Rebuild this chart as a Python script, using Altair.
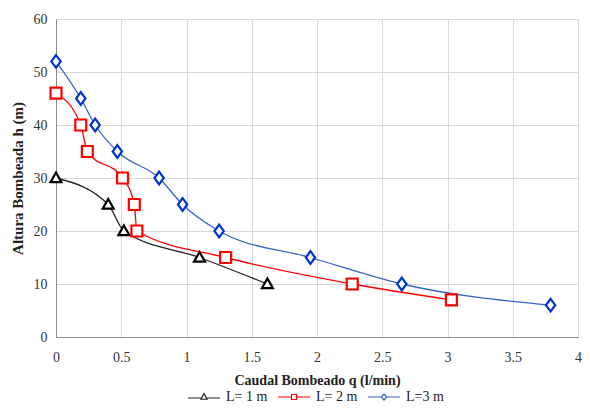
import altair as alt
import pandas as pd

# ---- data ----
series = ["L= 1 m", "L= 2 m", "L=3 m"]
q_L1 = [0.0, 0.40, 0.52, 1.10, 1.62]
h_L1 = [30, 25, 20, 15, 10]
q_L2 = [0.0, 0.19, 0.24, 0.51, 0.60, 0.62, 1.30, 2.27, 3.03]
h_L2 = [46, 40, 35, 30, 25, 20, 15, 10, 7]
q_L3 = [0.0, 0.19, 0.30, 0.47, 0.79, 0.97, 1.25, 1.95, 2.65, 3.79]
h_L3 = [52, 45, 40, 35, 30, 25, 20, 15, 10, 6]
x_ticks = [0, 0.5, 1, 1.5, 2, 2.5, 3, 3.5, 4]
y_ticks = [0, 10, 20, 30, 40, 50, 60]

line_colors = ["#222222", "#ff0000", "#3a63cc"]
marker_colors = ["#000000", "#ff0000", "#0033cc"]

rows = []
for name, qs, hs in zip(series, [q_L1, q_L2, q_L3], [h_L1, h_L2, h_L3]):
    for q, h in zip(qs, hs):
        rows.append({"serie": name, "q": q, "h": h})
df = pd.DataFrame(rows)

FONT = "Liberation Serif"

x = alt.X("q:Q", title="Caudal Bombeado q (l/min)",
          scale=alt.Scale(domain=[0, 4], nice=False),
          axis=alt.Axis(values=x_ticks, format="~r", labelFont=FONT, labelFontSize=14,
                        labelColor="#333333", labelPadding=13, titlePadding=9, labelFlush=False))
y = alt.Y("h:Q", title="Altura Bombeada h (m)",
          scale=alt.Scale(domain=[0, 60], nice=False),
          axis=alt.Axis(values=y_ticks, format="d", labelFont=FONT, labelFontSize=14,
                        labelColor="#333333", labelPadding=9, titlePadding=8,
                        titleFontSize=15, labelFlush=False))

lines = alt.Chart(df).mark_line(interpolate="monotone", strokeWidth=1.3).encode(
    x=x, y=y,
    color=alt.Color("serie:N", scale=alt.Scale(domain=series, range=line_colors), legend=None),
    detail="serie:N",
)

tri = "M0,-1L1,0.75L-1,0.75Z"
sq = "M-1,-1L1,-1L1,1L-1,1Z"
dia = "M0,-1.15L0.85,0L0,1.15L-0.85,0Z"

points = alt.Chart(df).mark_point(filled=False, fill="white", fillOpacity=1,
                                  strokeWidth=2.2, size=120, opacity=1).encode(
    x=x, y=y,
    stroke=alt.Stroke("serie:N", scale=alt.Scale(domain=series, range=marker_colors), legend=None),
    shape=alt.Shape("serie:N", scale=alt.Scale(domain=series, range=[tri, sq, dia]), legend=None),
)

# legend-only layer: line + small marker symbols
leg_tri = "M-3.2,0.2H-0.6M0.6,0.2H3.2M0,-0.7L0.6,0.45L-0.6,0.45Z"
leg_sq = "M-3.2,0H-0.5M0.5,0H3.2M-0.5,-0.5L0.5,-0.5L0.5,0.5L-0.5,0.5Z"
leg_dia = "M-3.2,0H-0.55M0.55,0H3.2M0,-0.6L0.55,0L0,0.6L-0.55,0Z"

legend_layer = alt.Chart(df).transform_filter("false").mark_point(
    filled=False, fill="white", fillOpacity=1, strokeWidth=1.2).encode(
    x=x, y=y,
    stroke=alt.Stroke("serie:N", scale=alt.Scale(domain=series, range=line_colors), legend=None),
    shape=alt.Shape("serie:N", scale=alt.Scale(domain=series, range=[leg_tri, leg_sq, leg_dia]),
                    legend=alt.Legend(title=None, orient="none", direction="horizontal",
                                      legendX=141, legendY=371,
                                      symbolSize=100, symbolStrokeWidth=1.2,
                                      symbolFillColor="white",
                                      labelOffset=15, columnPadding=7,
                                      labelFont=FONT, labelFontSize=14, labelColor="#222222")),
)

chart = alt.layer(lines, points, legend_layer).resolve_scale(
    shape="independent", stroke="independent"
).properties(
    width=522, height=318,
    autosize=alt.AutoSizeParams(type="none"),
    padding={"left": 48, "top": 11, "right": 4, "bottom": 69},
).configure_view(stroke="#8c8c8c", strokeWidth=1).configure_axis(
    labelFont=FONT, labelFontSize=14, labelColor="#333333",
    titleFont=FONT, titleFontSize=14, titleFontWeight="bold", titleColor="#222222",
    gridColor="#d9d9d9", gridWidth=1, domainColor="#8c8c8c", tickSize=0,
)

chart.save("out.html", embed_options={"renderer": "svg", "actions": False})
